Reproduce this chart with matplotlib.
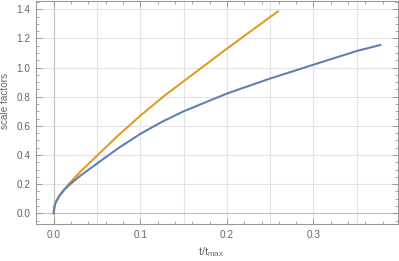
import numpy as np
import matplotlib.pyplot as plt
from matplotlib.ticker import MultipleLocator, FormatStrFormatter

# curve values
t_blue = [0.0, 0.0008, 0.0019, 0.006, 0.0127, 0.0188, 0.0304, 0.0508, 0.0746, 0.1,
          0.125, 0.15, 0.2, 0.25, 0.3, 0.35, 0.377]
a_blue = [0.0, 0.042, 0.068, 0.114, 0.165, 0.199, 0.256, 0.345, 0.447, 0.545,
          0.628, 0.70, 0.822, 0.925, 1.02, 1.114, 1.155]

t_orange = [0.0, 0.0008, 0.0019, 0.006, 0.0127, 0.0188, 0.0304, 0.0508, 0.0746, 0.1,
            0.1285, 0.15, 0.2, 0.25, 0.259]
a_orange = [0.0, 0.043, 0.07, 0.118, 0.168, 0.21, 0.283, 0.40, 0.535, 0.67,
            0.81, 0.906, 1.13, 1.347, 1.385]

BLUE = '#5E81B5'
ORANGE = '#E19C24'
GRAY = '#666666'

plt.rcParams['font.family'] = ['Liberation Sans', 'DejaVu Sans']

fig = plt.figure(figsize=(3.99, 2.61), dpi=100)
ax = fig.add_axes([0.0902, 0.1418, 0.9073, 0.856])

# grid lines
for gx in np.arange(0.05, 0.40, 0.05):
    ax.axvline(gx, color='#e3e3e3', lw=0.8, zorder=0)
for gy in np.arange(0.2, 1.45, 0.2):
    ax.axhline(gy, color='#e3e3e3', lw=0.8, zorder=0)
ax.axvline(0, color='#c4c4c4', lw=0.9, zorder=0)
ax.axhline(0, color='#c4c4c4', lw=0.9, zorder=0)

ax.plot(t_orange, a_orange, color=ORANGE, lw=1.5, zorder=2)
ax.plot(t_blue, a_blue, color=BLUE, lw=1.5, zorder=3)

ax.set_xlim(-0.0204, 0.3976)
ax.set_ylim(-0.073, 1.46)

ax.xaxis.set_major_locator(MultipleLocator(0.1))
ax.xaxis.set_minor_locator(MultipleLocator(0.02))
ax.yaxis.set_major_locator(MultipleLocator(0.2))
ax.yaxis.set_minor_locator(MultipleLocator(0.05))
ax.xaxis.set_major_formatter(FormatStrFormatter('%.1f'))
ax.yaxis.set_major_formatter(FormatStrFormatter('%.1f'))

ax.tick_params(which='both', direction='in', top=True, right=True,
               color='#999999', labelcolor=GRAY, labelsize=7.2)
ax.tick_params(which='major', length=4, width=0.7, pad=4)
ax.tick_params(which='minor', length=2, width=0.6)
ax.tick_params(axis='x', labeltop=False)
ax.tick_params(axis='y', labelright=False)

for s in ax.spines.values():
    s.set_color('#999999')
    s.set_linewidth(0.8)

ax.set_xlabel(r'$\mathregular{t/t_{max}}$', fontsize=8, color=GRAY)
ax.xaxis.set_label_coords(0.483, -0.095)
ax.set_ylabel('scale factors', fontsize=7.2, color=GRAY)
ax.yaxis.set_label_coords(-0.071, 0.55)

plt.savefig('out.png', dpi=100)
